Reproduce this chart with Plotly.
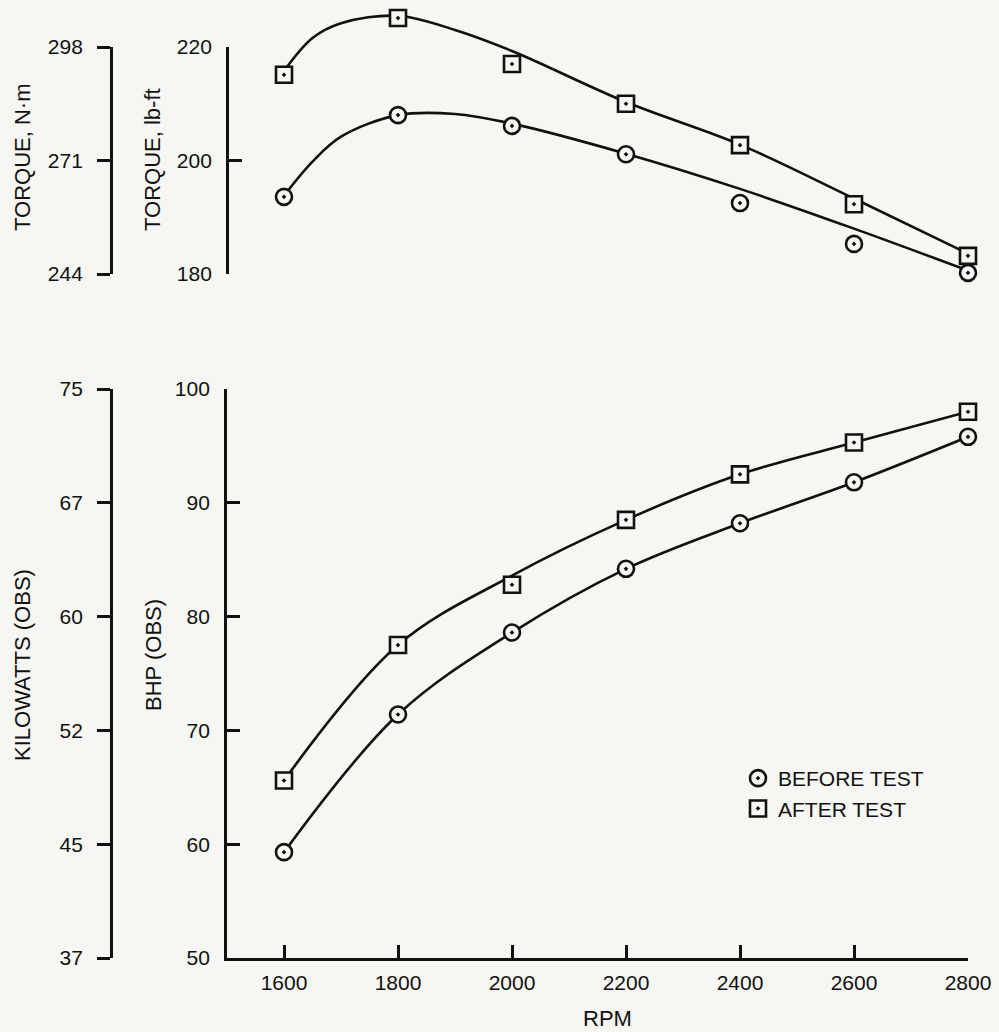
import plotly.graph_objects as go

# ---------------- data ----------------
rpm = [1600, 1800, 2000, 2200, 2400, 2600, 2800]

torque_before = [193.6, 208.0, 206.1, 201.1, 192.5, 185.3, 180.2]
torque_after = [215.1, 225.1, 217.0, 210.0, 202.7, 192.3, 183.2]
bhp_before = [59.3, 71.4, 78.6, 84.2, 88.2, 91.8, 95.8]
bhp_after = [65.6, 77.5, 82.8, 88.5, 92.5, 95.3, 98.0]

# faired curves as drawn on the chart
curve_rpm_top = [1600, 1650, 1700, 1800, 1900, 2000, 2200, 2400, 2600, 2800]
torque_before_curve = [193.8, 199.8, 204.2, 208.0, 208.2, 206.5, 201.2, 195.0, 188.0, 180.6]
torque_after_curve = [215.8, 221.6, 224.2, 225.5, 223.0, 219.3, 210.3, 202.8, 193.3, 183.6]
bhp_before_curve = [59.3, 71.4, 78.6, 84.2, 88.2, 91.8, 95.8]
bhp_after_curve = [65.6, 77.5, 83.6, 88.5, 92.5, 95.3, 98.0]

rpm_ticks = [1600, 1800, 2000, 2200, 2400, 2600, 2800]
lbft_ticks = [180, 200, 220]
nm_labels = ["244", "271", "298"]
bhp_ticks = [50, 60, 70, 80, 90, 100]
kw_labels = ["37", "45", "52", "60", "67", "75"]

# ---------------- layout helpers ----------------
W, H = 999, 1032
BG = "#f6f6f3"
INK = "#111111"
FONT = "Liberation Sans, Arial, sans-serif"


def fx(px):
    return px / W


def fy(py):
    return (H - py) / H


x_dom = [fx(227), fx(968)]
top_dom = [fy(274), fy(47)]
top_data_max = 227
top_data_dom = [top_dom[0], top_dom[0] + (top_dom[1] - top_dom[0]) * (top_data_max - 180) / 40]
bot_dom = [fy(958), fy(389)]

fig = go.Figure()

line_style = dict(color=INK, width=2.6, shape="spline", smoothing=1.0)
circ = dict(symbol="circle-dot", size=16, color=BG, line=dict(color=INK, width=2.6))
sq = dict(symbol="square-dot", size=16, color=BG, line=dict(color=INK, width=2.6))

# top panel curves + points
fig.add_trace(go.Scatter(x=curve_rpm_top, y=torque_before_curve, mode="lines", line=line_style,
                         xaxis="x2", yaxis="y2", showlegend=False, hoverinfo="skip"))
fig.add_trace(go.Scatter(x=curve_rpm_top, y=torque_after_curve, mode="lines", line=line_style,
                         xaxis="x2", yaxis="y2", showlegend=False, hoverinfo="skip"))
fig.add_trace(go.Scatter(x=rpm, y=torque_before, mode="markers", marker=circ, cliponaxis=False,
                         xaxis="x2", yaxis="y2", showlegend=False))
fig.add_trace(go.Scatter(x=rpm, y=torque_after, mode="markers", marker=sq, cliponaxis=False,
                         xaxis="x2", yaxis="y2", showlegend=False))

# bottom panel curves + points
fig.add_trace(go.Scatter(x=rpm, y=bhp_before_curve, mode="lines", line=line_style,
                         showlegend=False, hoverinfo="skip"))
fig.add_trace(go.Scatter(x=rpm, y=bhp_after_curve, mode="lines", line=line_style,
                         showlegend=False, hoverinfo="skip"))
fig.add_trace(go.Scatter(x=rpm, y=bhp_before, mode="markers", marker=circ, cliponaxis=False,
                         name="BEFORE TEST"))
fig.add_trace(go.Scatter(x=rpm, y=bhp_after, mode="markers", marker=sq, cliponaxis=False,
                         name="AFTER TEST"))

# placeholders so the extra scale axes are drawn
for ya in ["y3", "y4", "y5"]:
    fig.add_trace(go.Scatter(x=[None], y=[None], mode="markers", xaxis="x", yaxis=ya,
                             showlegend=False, hoverinfo="skip"))

axis_common = dict(showgrid=False, zeroline=False, showline=True, linecolor=INK, linewidth=2.8,
                   tickcolor=INK, tickwidth=2.8, ticklen=13, automargin=False,
                   tickfont=dict(family=FONT, size=21, color=INK))

fig.update_layout(
    width=W, height=H,
    margin=dict(l=0, r=0, t=0, b=0, autoexpand=False),
    paper_bgcolor=BG, plot_bgcolor="rgba(0,0,0,0)",
    font=dict(family=FONT, size=21, color=INK),
    xaxis=dict(domain=x_dom, range=[1500, 2800], anchor="y", tickmode="array", tickvals=rpm_ticks,
               ticks="inside", ticklabelstandoff=4, **axis_common),
    xaxis2=dict(domain=x_dom, range=[1500, 2800], anchor="y2", matches="x", visible=False),
    yaxis=dict(domain=bot_dom, range=[50, 100], anchor="x", tickmode="array", tickvals=bhp_ticks,
               ticks="inside", ticklabelstandoff=10, **axis_common),
    yaxis2=dict(domain=top_data_dom, range=[180, top_data_max], anchor="x2", visible=False),
    yaxis3=dict(domain=top_dom, range=[180, 220], anchor="free", position=x_dom[0],
                tickmode="array", tickvals=lbft_ticks, ticks="inside", ticklabelstandoff=10,
                **axis_common),
    yaxis4=dict(domain=top_dom, range=[180, 220], anchor="free", position=fx(111),
                tickmode="array", tickvals=lbft_ticks, ticktext=nm_labels, ticks="outside",
                ticklabelstandoff=10, **axis_common),
    yaxis5=dict(domain=bot_dom, range=[50, 100], anchor="free", position=fx(111),
                tickmode="array", tickvals=bhp_ticks, ticktext=kw_labels, ticks="outside",
                ticklabelstandoff=10, **axis_common),
    legend=dict(x=fx(738), y=fy(758), xanchor="left", yanchor="top",
                bgcolor="rgba(0,0,0,0)", font=dict(family=FONT, size=21, color=INK),
                itemwidth=30, tracegroupgap=0),
    showlegend=True,
)

title_font = dict(family=FONT, size=22, color=INK)
titles = [
    ("TORQUE, N·m", 22, 158),
    ("TORQUE, lb-ft", 152, 160),
    ("KILOWATTS (OBS)", 22, 665),
    ("BHP (OBS)", 153, 655),
]
for txt, px, py in titles:
    fig.add_annotation(text=txt, x=fx(px), y=fy(py), xref="paper", yref="paper",
                       xanchor="center", yanchor="middle", textangle=-90,
                       showarrow=False, font=title_font)
fig.add_annotation(text="RPM", x=fx(607), y=fy(1018), xref="paper", yref="paper",
                   xanchor="center", yanchor="middle", showarrow=False, font=title_font)

fig.write_html("out.html")
